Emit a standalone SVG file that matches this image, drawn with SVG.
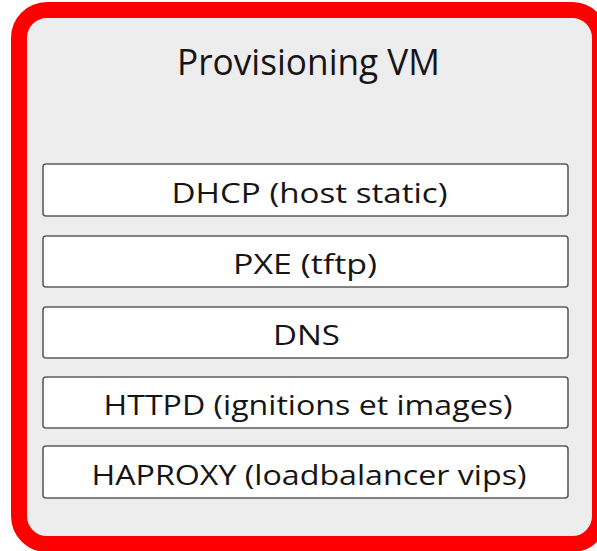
<svg xmlns="http://www.w3.org/2000/svg" width="597" height="551" viewBox="0 0 597 551">
  <style>
    .frame { fill: #ededed; stroke: #ff0000; stroke-width: 16; }
    .svc { fill: #ffffff; stroke: #5c5c5c; stroke-width: 1.6; }
    .title { font-family: "Open Sans", Lato, sans-serif; font-size: 37px; fill: #151515; text-anchor: middle; }
    .label { font-family: "Open Sans", Lato, sans-serif; font-size: 27.5px; fill: #151515; text-anchor: middle; }
  </style>
  <g id="provisioning-vm">
    <rect class="frame" x="19" y="10" width="581" height="534" rx="28" ry="28"/>
    <text class="title" x="308.5" y="75" textLength="263" lengthAdjust="spacingAndGlyphs">Provisioning VM</text>
  </g>
  <g id="dhcp">
    <rect class="svc" x="43" y="164" width="525" height="52" rx="3"/>
    <text class="label" x="309.5" y="203" textLength="276" lengthAdjust="spacingAndGlyphs">DHCP (host static)</text>
  </g>
  <g id="pxe">
    <rect class="svc" x="43" y="236" width="525" height="51" rx="3"/>
    <text class="label" x="305" y="274" textLength="144" lengthAdjust="spacingAndGlyphs">PXE (tftp)</text>
  </g>
  <g id="dns">
    <rect class="svc" x="43" y="307" width="525" height="51" rx="3"/>
    <text class="label" x="306.5" y="345" textLength="67" lengthAdjust="spacingAndGlyphs">DNS</text>
  </g>
  <g id="httpd">
    <rect class="svc" x="43" y="377" width="525" height="51" rx="3"/>
    <text class="label" x="308" y="415" textLength="409" lengthAdjust="spacingAndGlyphs">HTTPD (ignitions et images)</text>
  </g>
  <g id="haproxy">
    <rect class="svc" x="43" y="446" width="525" height="52" rx="3"/>
    <text class="label" x="309" y="485" textLength="435" lengthAdjust="spacingAndGlyphs">HAPROXY (loadbalancer vips)</text>
  </g>
  <g id="connectors"/>
</svg>
